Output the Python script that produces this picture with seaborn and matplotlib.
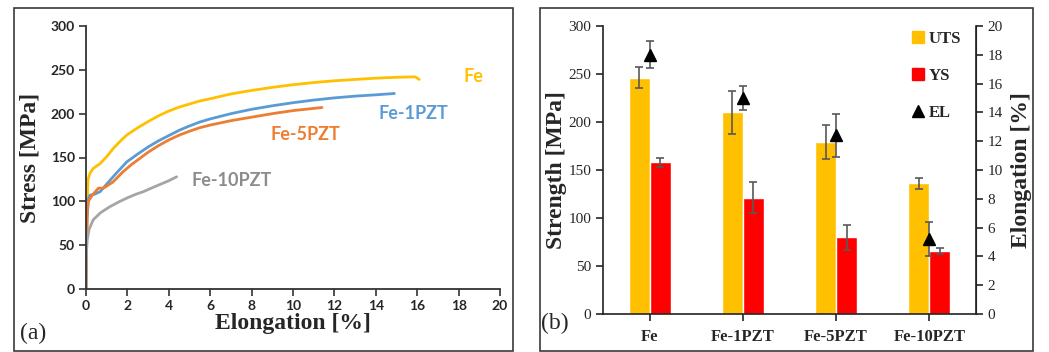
import numpy as np
import pandas as pd
import matplotlib
matplotlib.use('Agg')
import matplotlib.pyplot as plt
from matplotlib.patches import Rectangle
from matplotlib.lines import Line2D
import seaborn as sns

################################################################################
# (a) stress-strain curves

fe_x = [0, 0.05, 0.1, 0.19, 0.35, 0.68, 1.0, 1.32, 1.65, 1.97, 2.5, 3, 3.5, 4, 4.5, 5, 5.5, 6, 7, 8, 9, 10, 11, 12, 13, 14, 15, 15.9, 16.1]
fe_y = [0, 95, 125, 132, 137.6, 143, 151, 160.4, 168.5, 175.6, 184, 191, 197.5, 203, 207.5, 211, 214.5, 217, 222.5, 226.5, 230, 233, 235.5, 237.5, 239, 240.5, 241.5, 242, 239]

fe1_x = [0, 0.05, 0.12, 0.19, 0.4, 0.68, 1.16, 1.5, 1.97, 2.5, 3, 3.5, 4, 4.5, 5, 5.5, 6, 7, 8, 9, 10, 11, 12, 13, 14, 14.9]
fe1_y = [0, 80, 103, 107, 108, 111, 124, 133, 145, 154, 162, 169, 175, 181, 186, 190.5, 194, 200, 205, 209, 212.5, 215.5, 218, 220, 221.5, 223]

fe5_x = [0, 0.05, 0.1, 0.3, 0.6, 0.84, 1.3, 1.8, 2.2, 2.6, 3, 3.5, 4, 4.5, 5, 5.5, 6, 7, 8, 9, 10, 11.4]
fe5_y = [0, 85, 99.5, 107, 115, 115, 122, 134, 142, 149, 156, 163.5, 170, 175.5, 180, 184, 187, 192, 196, 200, 203.5, 207]

fe10_x = [0, 0.02, 0.05, 0.15, 0.35, 0.7, 1.16, 1.6, 2, 2.4, 2.77, 3.2, 3.6, 4.0, 4.38]
fe10_y = [0, 40, 55, 68, 79, 87, 94, 99.5, 104, 108, 111, 115.5, 119.5, 123.5, 128]

curve_names = ['Fe', 'Fe-1PZT', 'Fe-5PZT', 'Fe-10PZT']
curve_colors = ['#FFC000', '#5B9BD5', '#ED7D31', '#A5A5A5']
label_colors = ['#FFC000', '#5B9BD5', '#ED7D31', '#8C8C8C']
label_pos = [(18.7, 242), (15.8, 200), (10.6, 176), (7.05, 124)]

# (b) mechanical properties
samples = ['Fe', 'Fe-1PZT', 'Fe-5PZT', 'Fe-10PZT']
uts = [246, 210, 179, 136]
uts_err = [11, 22, 18, 6]
ys = [158, 121, 80, 66]
ys_err = [5, 16, 13, 3]
el = [18.0, 15.0, 12.4, 5.2]
el_err = [0.95, 0.8, 1.5, 1.2]

################################################################################

sns.set_style('ticks')
plt.rcParams['font.family'] = ['Liberation Serif', 'DejaVu Serif']

fig = plt.figure(figsize=(10.49, 3.52), dpi=100)

# panel frames
for x0, w in [(14 / 1049, 499 / 1049), (540 / 1049, 493 / 1049)]:
    fig.patches.append(Rectangle((x0, 0.004), w, 0.973, transform=fig.transFigure,
                                 fill=False, edgecolor='#3a3a3a', linewidth=1.2))

# ---------------------------------------------------------------- (a)
ax = fig.add_axes([86 / 1049, 63 / 352, 414 / 1049, 263 / 352])

curves = pd.concat([
    pd.DataFrame({'x': xs, 'y': ys_, 'sample': name})
    for xs, ys_, name in zip([fe_x, fe1_x, fe5_x, fe10_x], [fe_y, fe1_y, fe5_y, fe10_y], curve_names)
])
sns.lineplot(data=curves, x='x', y='y', hue='sample', palette=curve_colors,
             sort=False, estimator=None, linewidth=2, legend=False, ax=ax)

for name, col, (lx, ly) in zip(curve_names, label_colors, label_pos):
    ax.text(lx, ly, name, color=col, fontsize=13, fontweight='bold',
            family=['Lato', 'DejaVu Sans'], ha='center', va='center')

ax.set_xlim(0, 20)
ax.set_ylim(0, 300)
ax.set_xticks(range(0, 21, 2))
ax.set_yticks(range(0, 301, 50))
for lab in ax.get_xticklabels() + ax.get_yticklabels():
    lab.set_family(['Lato', 'DejaVu Sans'])
    lab.set_fontweight('bold')
    lab.set_fontsize(10)
ax.tick_params(length=5, width=1.2, color='#333333', pad=3)
sns.despine(ax=ax)
for s in ['left', 'bottom']:
    ax.spines[s].set_color('#333333')
    ax.spines[s].set_linewidth(1.3)
ax.set_xlabel('Elongation [%]', fontsize=17, fontweight='bold', labelpad=1)
ax.set_ylabel('Stress [MPa]', fontsize=17, fontweight='bold', labelpad=7)
fig.text(33 / 1049, 1 - 333 / 352, '(a)', fontsize=17, ha='center', va='center')

# ---------------------------------------------------------------- (b)
bx = fig.add_axes([603 / 1049, 38 / 352, 373 / 1049, 288 / 352])

bars = pd.DataFrame({
    'sample': samples * 2,
    'value': uts + ys,
    'prop': ['UTS'] * len(samples) + ['YS'] * len(samples),
})
sns.barplot(data=bars, x='sample', y='value', hue='prop',
            palette=['#FFC000', '#FF0000'], saturation=1, width=0.45, gap=0,
            errorbar=None, legend=False, ax=bx)

# error bars on top of each bar, at the positions seaborn chose
for patch, v, e in zip(bx.patches, uts + ys, uts_err + ys_err):
    cx = patch.get_x() + patch.get_width() / 2
    bx.errorbar(cx, v, yerr=e, color='#595959', capsize=3, elinewidth=1.2, capthick=1.2)

bx.set_xlim(-0.5, len(samples) - 0.5)
bx.set_ylim(0, 300)
bx.set_yticks(range(0, 301, 50))
bx.set_xlabel('')
bx.set_ylabel('Strength [MPa]', fontsize=17, fontweight='bold', labelpad=1)
bx.tick_params(axis='y', labelsize=11, length=5, width=1.2)
bx.tick_params(axis='x', labelsize=12, length=5, width=1.2, pad=6)
for lab in bx.get_xticklabels():
    lab.set_fontweight('bold')
bx.spines['top'].set_visible(False)
for s in ['left', 'bottom']:
    bx.spines[s].set_linewidth(1.2)
    bx.spines[s].set_color('#222222')

bx2 = bx.twinx()
bx2.errorbar(np.arange(len(samples)), el, yerr=el_err, fmt='^', color='black',
             markersize=9, ecolor='#595959', capsize=3, elinewidth=1.2, capthick=1.2)
bx2.set_ylim(0, 20)
bx2.set_yticks(range(0, 21, 2))
bx2.set_ylabel('Elongation [%]', fontsize=17, fontweight='bold', labelpad=6)
bx2.tick_params(axis='y', labelsize=11, length=5, width=1.2)
bx2.spines['top'].set_visible(False)
bx2.spines['right'].set_linewidth(1.2)
bx2.spines['right'].set_color('#222222')
bx2.spines['left'].set_visible(False)
bx2.spines['bottom'].set_visible(False)

handles = [
    Line2D([], [], marker='s', linestyle='', color='#FFC000', markersize=8),
    Line2D([], [], marker='s', linestyle='', color='#FF0000', markersize=8),
    Line2D([], [], marker='^', linestyle='', color='black', markersize=8),
]
bx2.legend(handles, ['UTS', 'YS', 'EL'], loc='upper left', bbox_to_anchor=(895 / 1049, 1 - 16 / 352),
           bbox_transform=fig.transFigure, frameon=False, handletextpad=0.1, handlelength=1.0,
           labelspacing=1.25, prop={'weight': 'bold', 'size': 12})

fig.text(555 / 1049, 1 - 323 / 352, '(b)', fontsize=17, ha='center', va='center')

fig.savefig('out.png', dpi=100)
